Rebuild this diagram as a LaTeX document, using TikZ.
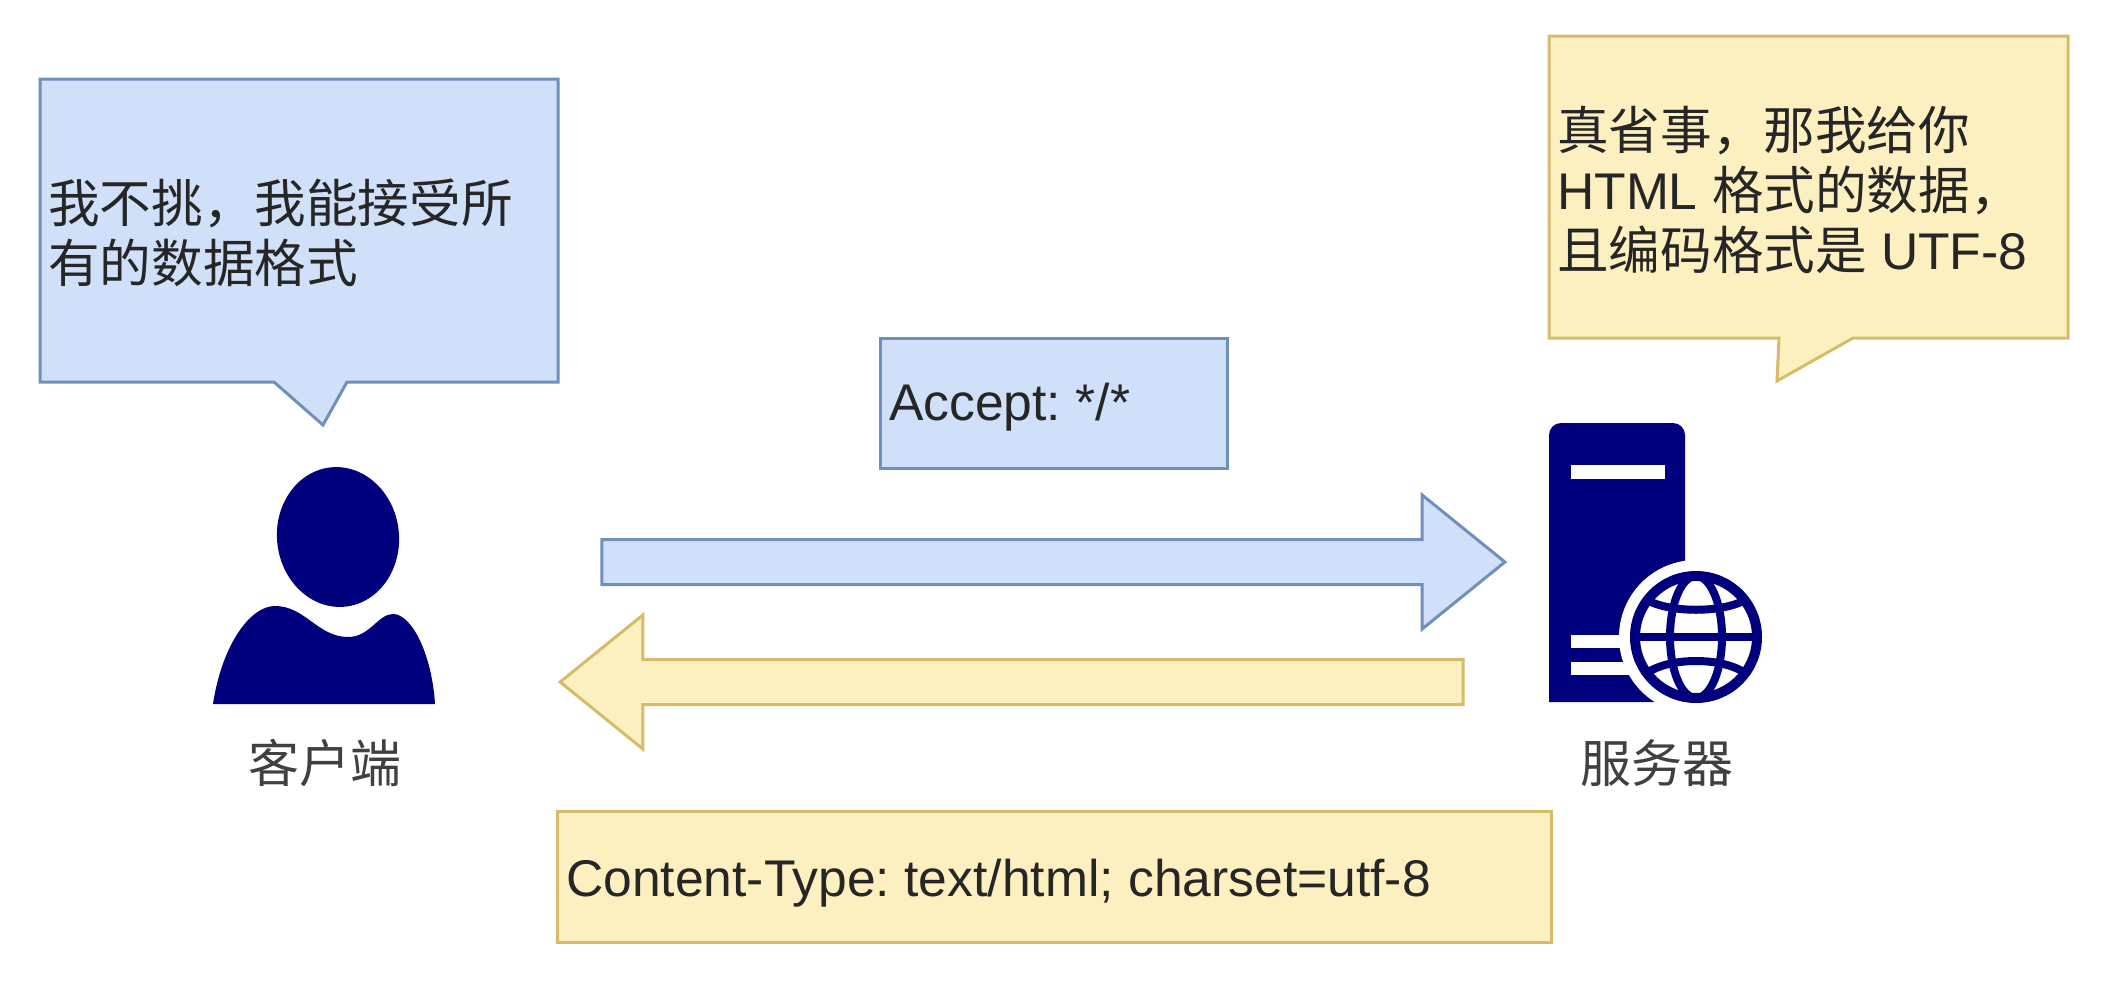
\documentclass[tikz,border=0pt]{standalone}
\usepackage{fontspec}
\usepackage{tikz}
\usetikzlibrary{shapes.arrows}
\setmainfont{Liberation Sans}
\newfontfamily\cjk{Noto Sans CJK SC}
\definecolor{blue_fill}{HTML}{CFE0F8}
\definecolor{blue_line}{HTML}{7090BC}
\definecolor{yellow_fill}{HTML}{FCEFC0}
\definecolor{yellow_line}{HTML}{D6BC68}
\definecolor{icon_navy}{HTML}{00007F}

\begin{document}
\frenchspacing
\begin{tikzpicture}[x=1pt, y=-1pt,
		text_style/.style={anchor=west,align=left,inner sep=0pt,text=black!85,font=\fontsize{51.6}{60}\selectfont},
		label_style/.style={inner sep=0pt,text=black!75,font=\fontsize{51}{60}\selectfont\cjk},
		blue_style/.style={draw=blue_line,fill=blue_fill,line width=3pt},
		yellow_style/.style={draw=yellow_line,fill=yellow_fill,line width=3pt},
		arrow_style/.style={single arrow,minimum height=903pt,minimum width=131pt,inner sep=0pt,outer sep=0pt,
			text height=42pt,text depth=0pt,single arrow head extend=44.5pt,single arrow tip angle=78,line width=3pt}]
		\useasboundingbox (0,0) rectangle (2104,988);
		
		% callouts
		\draw[blue_style] (40,79) -- (558,79) -- (558,382) -- (347,382) -- (323,425) -- (274,382) -- (40,382) -- cycle;
		\draw[yellow_style] (1549,36) -- (2068,36) -- (2068,338) -- (1853,338) -- (1777,381) -- (1779,338) -- (1549,338) -- cycle;
		\node[text_style] (client_says) at (48,233) {\cjk 我不挑，我能接受所\\\cjk 有的数据格式};
		\node[text_style] (server_says) at (1557,190) {\cjk 真省事，那我给你\\HTML {\cjk 格式的数据，}\\{\cjk 且编码格式是} UTF-8};
		
		% header boxes
		\node[blue_style,minimum width=347pt,minimum height=130pt,outer sep=0pt] (accept_box) at (1053.5,403) {};
		\node[yellow_style,minimum width=994pt,minimum height=131pt,outer sep=0pt] (type_box) at (1054,876.5) {};
		\node[text_style] (accept_text) at (889,407) {Accept: */*};
		\node[text_style] (type_text) at (566,883) {Content-Type: text/html; charset=utf-8};
		
		% big arrows
		\node[arrow_style,blue_style] (request) at (1039.5,562) {};
		\node[arrow_style,yellow_style,shape border rotate=180] (response) at (1025.5,682) {};
		
		% client icon
		\fill[icon_navy,rotate around={6:(338,537)}] (338,537) ellipse [x radius=61pt,y radius=70pt];
		\fill[icon_navy] (213,704) .. controls (222,645) and (250,606) .. (275,606)
			.. controls (305,606) and (318,637) .. (348,637)
			.. controls (370,637) and (378,614) .. (393,614)
			.. controls (412,614) and (432,655) .. (435,704) -- cycle;
		\node[label_style] (client) at (325,763) {客户端};
		
		% server icon
		\fill[icon_navy] (1549,702) [rounded corners=12pt] -- (1549,423) -- (1685,423) [sharp corners] -- (1685,702) -- cycle;
		\fill[white] (1571,465) rectangle (1665,479);
		\fill[white] (1571,635) rectangle (1640,648);
		\fill[white] (1571,662) rectangle (1640,675);
		\fill[white] (1696,637) circle [radius=77pt];
		\draw[icon_navy,line width=10pt] (1696,637) circle [radius=61pt];
		\draw[icon_navy,line width=8pt] (1696,637) ellipse [x radius=26pt,y radius=61pt];
		\draw[icon_navy,line width=8pt] (1635,637) -- (1757,637);
		\draw[icon_navy,line width=8pt] (1647,600) .. controls (1670,613) and (1722,613) .. (1745,600);
		\draw[icon_navy,line width=8pt] (1647,673) .. controls (1670,657) and (1722,657) .. (1745,673);
		\node[label_style] (server) at (1657,763) {服务器};
		
		\end{tikzpicture}
\end{document}
